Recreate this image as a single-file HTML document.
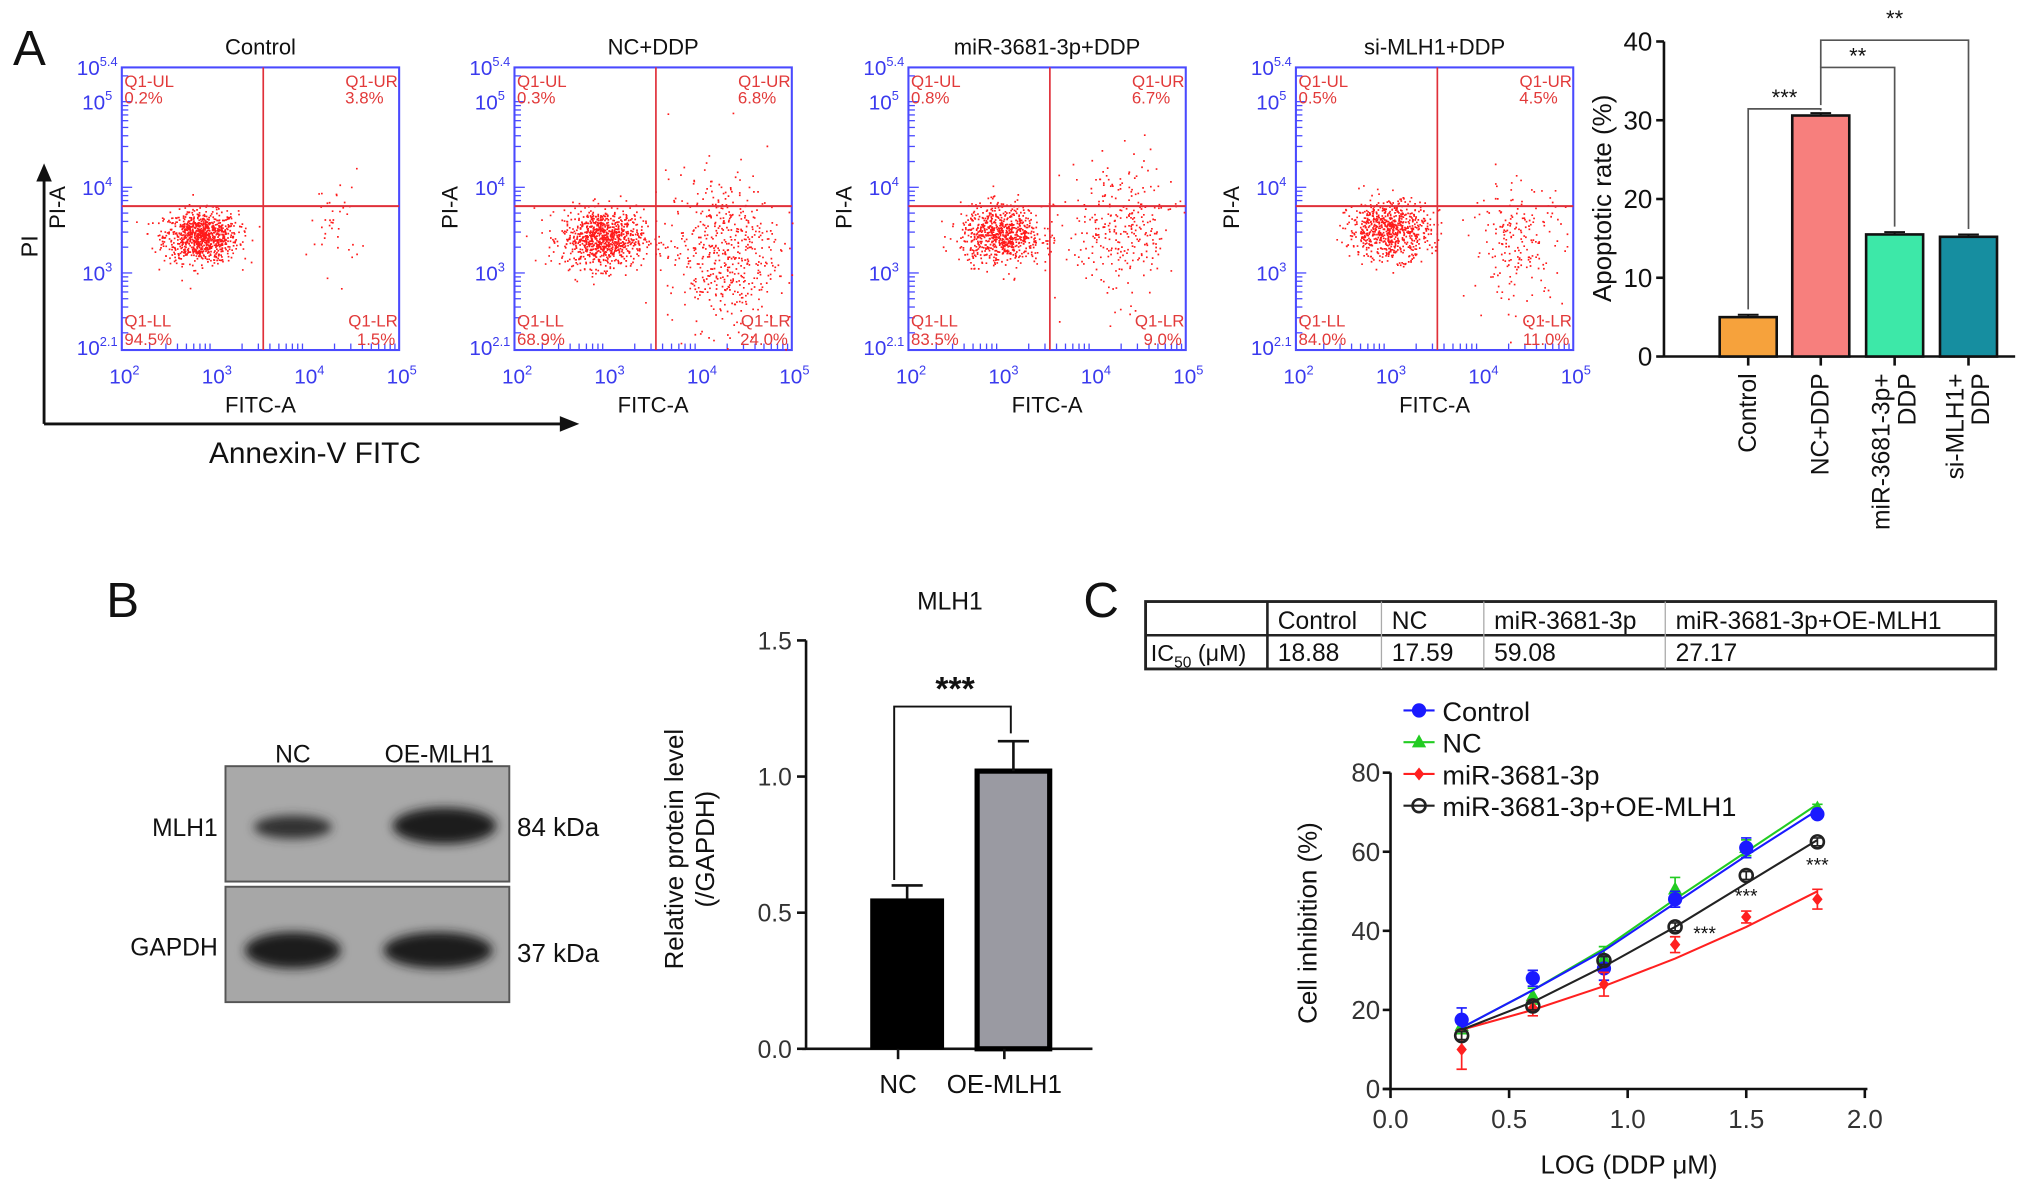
<!DOCTYPE html>
<html><head><meta charset="utf-8">
<style>
html,body{margin:0;padding:0;background:#fff;}
svg{display:block;font-family:"Liberation Sans",Arial,sans-serif;}
</style></head>
<body>
<svg id="fig" width="2032" height="1194" viewBox="0 0 1568 921" preserveAspectRatio="none" xmlns="http://www.w3.org/2000/svg">
<defs>
<filter id="blur" x="-50%" y="-50%" width="200%" height="200%"><feGaussianBlur stdDeviation="4"/></filter>
</defs>
</svg>
<script>
// ---------- data ----------
const flowTitles = ["Control","NC+DDP","miR-3681-3p+DDP","si-MLH1+DDP"];
const flowUL = ["0.2%","0.3%","0.8%","0.5%"];
const flowUR = ["3.8%","6.8%","6.7%","4.5%"];
const flowLL = ["94.5%","68.9%","83.5%","84.0%"];
const flowLR = ["1.5%","24.0%","9.0%","11.0%"];
// cluster params per plot: [logX, logY, sdX, sdY, count]
const flowClusters = [
  [[2.85,3.42,0.2,0.15,900],[4.3,3.6,0.14,0.3,40]],
  [[2.95,3.4,0.22,0.17,900],[4.25,3.25,0.3,0.45,520]],
  [[3.0,3.45,0.22,0.17,750],[4.3,3.5,0.3,0.4,300]],
  [[3.0,3.5,0.22,0.17,750],[4.4,3.35,0.25,0.35,200]]
];
const apopCats = [["Control"],["NC+DDP"],["miR-3681-3p+","DDP"],["si-MLH1+","DDP"]];
const apopVals = [5.0,30.6,15.5,15.2];
const apopErr = [0.3,0.3,0.3,0.3];
const apopColors = ["#f6a23c","#f77f7d","#3de8a8","#168ea0"];
const apopTicks = [0,10,20,30,40];
const mlhCats = ["NC","OE-MLH1"];
const mlhVals = [0.55,1.02];
const mlhErr = [0.05,0.11];
const mlhTicks = [0,0.5,1.0,1.5];
const doseX = [0.3,0.6,0.9,1.2,1.5,1.8];
const ctrlY = [17.5,28,30.5,48,61,69.5];
const ctrlE = [3,2,3,2,2.5,1];
const ncY = [16,23.5,33,50.5,61,71];
const ncE = [2,2,3,3,2,1];
const mirY = [10,20.5,26.5,36.5,43.5,48];
const mirE = [5,2,3,2,1.5,2.5];
const oeY = [13.5,21,32.5,41,54,62.5];
const oeE = [1,1,1,1,1,1];
const ctrlFit = [15.5,25,35,47,59,70.5];
const ncFit = [15.5,25,35.5,48,60,72];
const mirFit = [15,20,26,33,41,50];
const oeFit = [15,22,31,41,52,63];
const lineXTicks = [0,0.5,1.0,1.5,2.0];
const lineYTicks = [0,20,40,60,80];
const icCols = ["Control","NC","miR-3681-3p","miR-3681-3p+OE-MLH1"];
const icVals = ["18.88","17.59","59.08","27.17"];

// ---------- helpers ----------
const NS="http://www.w3.org/2000/svg";
const svg=document.getElementById('fig');
function el(tag,attrs,name,parent){
  const e=document.createElementNS(NS,tag);
  for(const k in attrs) e.setAttribute(k,attrs[k]);
  
  
  (parent||svg).appendChild(e);
  return e;
}
function txt(x,y,s,size,extra,name,parent){
  const a=Object.assign({x:x,y:y,'font-size':size,fill:'#111'},extra||{});
  const t=el('text',a,name,parent);
  t.textContent=s;
  return t;
}
function pow(x,y,base,exp,size,color,name,parent){
  const t=el('text',{x:x,y:y,'font-size':size,fill:color,'text-anchor':'middle'},name,parent);
  const a=document.createElementNS(NS,'tspan');a.textContent=base;t.appendChild(a);
  const b=document.createElementNS(NS,'tspan');b.textContent=exp;b.setAttribute('font-size',size*0.62);b.setAttribute('dy',-size*0.45);t.appendChild(b);
  return t;
}
let seed=12345;
function rnd(){seed=(seed*1103515245+12345)%2147483648;return seed/2147483648;}
function gauss(){let u=rnd()||1e-6,v=rnd();return Math.sqrt(-2*Math.log(u))*Math.cos(2*Math.PI*v);}

// ---------- Panel A: flow plots ----------
txt(10,50,"A",38,{},'panel-a-label');
const flowOx=[94,397,701,1000];
const fw=214, ftop=52, fbot=270;
for(let i=0;i<4;i++){
  const g=el('g',{},'flow-plot-'+(i+1));
  const ox=flowOx[i];
  const fx=v=>ox+(v-2)/3*fw;
  const fy=v=>fbot-(v-2.1)/3.3*(fbot-ftop);
  txt(ox+fw/2,42,flowTitles[i],17,{'text-anchor':'middle'},'flow-title',g);
  el('rect',{x:ox,y:ftop,width:fw,height:fbot-ftop,fill:'none',stroke:'#4a4aff','stroke-width':1.6},'flow-frame',g);
  for(let d=2;d<5;d++){for(let m=2;m<=9;m++){const lx=fx(d+Math.log10(m));el('line',{x1:lx,y1:fbot,x2:lx,y2:fbot-5,stroke:'#4a4aff','stroke-width':1},'x-minor-tick',g);}}
  for(let d=2;d<6;d++){for(let m=1;m<=9;m++){const v=d+Math.log10(m);if(v<2.1||v>5.4)continue;const ly=fy(v);el('line',{x1:ox,y1:ly,x2:ox+(m==1?8:5),y2:ly,stroke:'#4a4aff','stroke-width':1},'y-minor-tick',g);}}
  const pts=[];
  flowClusters[i].forEach(c=>{for(let k=0;k<c[4];k++){const lx=c[0]+gauss()*c[2],ly=c[1]+gauss()*c[3];if(lx<2||lx>5||ly<2.1||ly>5.4)continue;pts.push('M'+fx(lx).toFixed(1)+' '+fy(ly).toFixed(1)+'h1.3');}});
  el('path',{d:pts.join(''),stroke:'#ff1a1a','stroke-width':1.3,fill:'none'},'flow-events',g);
  const qx=fx(3.53), qy=fy(3.78);
  el('line',{x1:qx,y1:ftop,x2:qx,y2:fbot,stroke:'#e0303a','stroke-width':1.3},'quadrant-vline',g);
  el('line',{x1:ox,y1:qy,x2:ox+fw,y2:qy,stroke:'#e0303a','stroke-width':1.5},'quadrant-hline',g);
  const qs={fill:'#e23a3a'};
  txt(ox+2,67,"Q1-UL",13,qs,'quadrant-ul-label',g);txt(ox+2,80,flowUL[i],13,qs,'quadrant-ul-value',g);
  txt(ox+fw-1,67,"Q1-UR",13,Object.assign({'text-anchor':'end'},qs),'quadrant-ur-label',g);txt(ox+fw-12,80,flowUR[i],13,Object.assign({'text-anchor':'end'},qs),'quadrant-ur-value',g);
  txt(ox+2,252,"Q1-LL",13,qs,'quadrant-ll-label',g);txt(ox+2,266,flowLL[i],13,qs,'quadrant-ll-value',g);
  txt(ox+fw-1,252,"Q1-LR",13,Object.assign({'text-anchor':'end'},qs),'quadrant-lr-label',g);txt(ox+fw-3,266,flowLR[i],13,Object.assign({'text-anchor':'end'},qs),'quadrant-lr-value',g);
  const bl='#3a3aee';
  [["5.4",5.4,ftop+6],["5",5,fy(5)+6],["4",4,fy(4)+6],["3",3,fy(3)+6],["2.1",2.1,fbot+4]].forEach(t=>pow(ox-19,t[2],"10",t[0],16,bl,'y-tick-label',g));
  [2,3,4,5].forEach(d=>pow(fx(d)+2,fbot+26,"10",String(d),16,bl,'x-tick-label',g));
  txt(ox+fw/2,318,"FITC-A",17,{'text-anchor':'middle'},'x-axis-title',g);
  txt(0,0,"PI-A",17,{'text-anchor':'middle',transform:'translate('+(ox-44)+',160) rotate(-90)'},'y-axis-title',g);
}
el('path',{d:'M34 327V135M34 327H440',stroke:'#111','stroke-width':2.2,fill:'none'},'annexin-axes-arrows');
el('path',{d:'M28 140L34 126L40 140Z',fill:'#111'},'pi-arrowhead');
el('path',{d:'M432 321L447 327L432 333Z',fill:'#111'},'annexin-arrowhead');
txt(0,0,"PI",18,{'text-anchor':'middle',transform:'translate(29,190) rotate(-90)'},'pi-axis-title');
txt(243,357,"Annexin-V FITC",23,{'text-anchor':'middle'},'annexin-axis-title');

// ---------- Panel A: apoptotic bar chart ----------
(function(){
  const g=el('g',{},'apoptosis-bar-chart');
  const ax=1284, y0=275, y1=32;
  const ys=v=>y0-v/40*(y0-y1);
  const xc=[1349,1405,1462,1519];
  el('line',{x1:ax,y1:y1,x2:ax,y2:y0,stroke:'#111','stroke-width':2},'y-axis',g);
  el('line',{x1:ax,y1:y0,x2:1555,y2:y0,stroke:'#111','stroke-width':2},'x-axis',g);
  apopTicks.forEach(t=>{el('line',{x1:ax-6,y1:ys(t),x2:ax,y2:ys(t),stroke:'#111','stroke-width':2},'y-tick',g);txt(ax-9,ys(t)+7,String(t),20,{'text-anchor':'end'},'y-tick-label',g);});
  txt(0,0,"Apoptotic rate (%)",20,{'text-anchor':'middle',transform:'translate(1243,153) rotate(-90)'},'y-axis-title',g);
  apopVals.forEach((v,i)=>{
    el('rect',{x:xc[i]-22,y:ys(v),width:44,height:y0-ys(v),fill:apopColors[i],stroke:'#111','stroke-width':2},'bar-'+i,g);
    el('path',{d:'M'+(xc[i]-8)+' '+ys(v+apopErr[i])+'h16M'+xc[i]+' '+ys(v+apopErr[i])+'V'+ys(v),stroke:'#111','stroke-width':1.5},'error-bar',g);
    el('line',{x1:xc[i],y1:y0,x2:xc[i],y2:y0+7,stroke:'#111','stroke-width':2},'x-tick',g);
    const lines=apopCats[i];
    lines.forEach((s,j)=>{txt(0,0,s,19,{'text-anchor':'end',transform:'translate('+(xc[i]+6-(lines.length-1-j)*20+ (lines.length>1?10:0))+',288) rotate(-90)'},'x-tick-label',g);});
  });
  const br=(a,b,y,ya,yb,s,name)=>{el('path',{d:'M'+xc[a]+' '+ya+'V'+y+'H'+xc[b]+'V'+yb,stroke:'#555','stroke-width':1.3,fill:'none'},name,g);txt((xc[a]+xc[b])/2,y-3,s,17,{'text-anchor':'middle'},name+'-stars',g);};
  br(0,1,84,ys(apopVals[0])-6,ys(apopVals[1])-4,"***",'sig-ctrl-nc');
  br(1,2,52,ys(apopVals[1])-8,ys(apopVals[2])-6,"**",'sig-nc-mir');
  br(1,3,31,52,ys(apopVals[3])-6,"",'sig-nc-si');
  txt((xc[1]+xc[3])/2,20,"**",17,{'text-anchor':'middle'},'sig-nc-si-stars',g);
})();

// ---------- Panel B: western blot ----------
txt(82,476,"B",38,{},'panel-b-label');
(function(){
  const g=el('g',{},'western-blot');
  txt(226,588,"NC",19,{'text-anchor':'middle'},'lane-label-nc',g);
  txt(339,588,"OE-MLH1",19,{'text-anchor':'middle'},'lane-label-oe',g);
  el('rect',{x:174,y:591,width:219,height:89,fill:'#a9a9a9',stroke:'#555','stroke-width':1.5},'blot-mlh1',g);
  el('rect',{x:174,y:684,width:219,height:89,fill:'#a7a7a7',stroke:'#555','stroke-width':1.5},'blot-gapdh',g);
  el('ellipse',{cx:226,cy:638,rx:30,ry:9,fill:'#333',filter:'url(#blur)'},'band-mlh1-nc',g);
  el('ellipse',{cx:343,cy:637,rx:40,ry:14,fill:'#1c1c1c',filter:'url(#blur)'},'band-mlh1-oe',g);
  el('ellipse',{cx:226,cy:733,rx:37,ry:14,fill:'#1c1c1c',filter:'url(#blur)'},'band-gapdh-nc',g);
  el('ellipse',{cx:338,cy:733,rx:42,ry:14,fill:'#1c1c1c',filter:'url(#blur)'},'band-gapdh-oe',g);
  txt(168,645,"MLH1",19,{'text-anchor':'end'},'row-label-mlh1',g);
  txt(168,737,"GAPDH",19,{'text-anchor':'end'},'row-label-gapdh',g);
  txt(399,645,"84 kDa",20,{},'mw-84',g);
  txt(399,742,"37 kDa",20,{},'mw-37',g);
})();

// ---------- Panel B: MLH1 bar ----------
(function(){
  const g=el('g',{},'mlh1-bar-chart');
  const ax=622, y0=809, y1=494;
  const ys=v=>y0-v/1.5*(y0-y1);
  const xc=[700,782];
  txt(733,470,"MLH1",19,{'text-anchor':'middle'},'chart-title',g);
  el('line',{x1:ax,y1:y1,x2:ax,y2:y0,stroke:'#111','stroke-width':2},'y-axis',g);
  el('line',{x1:ax-3,y1:y0,x2:843,y2:y0,stroke:'#111','stroke-width':2},'x-axis',g);
  mlhTicks.forEach(t=>{el('line',{x1:ax-7,y1:ys(t),x2:ax,y2:ys(t),stroke:'#111','stroke-width':2},'y-tick',g);txt(ax-11,ys(t)+7,t.toFixed(1),19,{'text-anchor':'end',fill:'#333'},'y-tick-label',g);});
  txt(0,0,"Relative protein level",20,{'text-anchor':'middle',transform:'translate(527,655) rotate(-90)'},'y-axis-title',g);
  txt(0,0,"(/GAPDH)",20,{'text-anchor':'middle',transform:'translate(551,655) rotate(-90)'},'y-axis-title-unit',g);
  const fills=['#000','#9a9aa2'];
  mlhVals.forEach((v,i)=>{
    el('rect',{x:xc[i]-28,y:ys(v),width:56,height:y0-ys(v),fill:fills[i],stroke:'#000','stroke-width':i?4:1},'bar-'+mlhCats[i],g);
    el('path',{d:'M'+(xc[i]-12)+' '+ys(v+mlhErr[i])+'h24M'+xc[i]+' '+ys(v+mlhErr[i])+'V'+ys(v),stroke:'#111','stroke-width':2},'error-bar',g);
    el('line',{x1:xc[i]-7,y1:y0,x2:xc[i]-7,y2:y0+8,stroke:'#111','stroke-width':2},'x-tick',g);
    txt(xc[i]-7,843,mlhCats[i],20,{'text-anchor':'middle'},'x-tick-label',g);
  });
  el('path',{d:'M'+(xc[0]-10)+' '+ys(mlhVals[0]+mlhErr[0]+0.02)+'V545H'+(xc[1]-2)+'V'+(ys(mlhVals[1]+mlhErr[1])-6),stroke:'#111','stroke-width':1.5,fill:'none'},'sig-bracket',g);
  txt(737,540,"***",26,{'text-anchor':'middle','font-weight':'bold'},'sig-stars',g);
})();

// ---------- Panel C: table ----------
txt(836,476,"C",38,{},'panel-c-label');
(function(){
  const g=el('g',{},'ic50-table');
  el('rect',{x:884,y:464,width:656,height:52,fill:'none',stroke:'#222','stroke-width':2.2},'table-frame',g);
  el('line',{x1:884,y1:490,x2:1540,y2:490,stroke:'#222','stroke-width':2},'table-row-divider',g);
  el('line',{x1:978,y1:464,x2:978,y2:516,stroke:'#222','stroke-width':2},'table-col-divider',g);
  const cx=[978,1066,1145,1285];
  [1066,1145,1285].forEach(x=>el('line',{x1:x,y1:464,x2:x,y2:516,stroke:'#aaa','stroke-width':1},'table-col-divider',g));
  icCols.forEach((s,i)=>txt(cx[i]+8,485,s,19,{},'table-header-cell',g));
  icVals.forEach((s,i)=>txt(cx[i]+8,510,s,19,{},'table-value-cell',g));
  const t=txt(888,510,"IC",18,{},'table-row-label',g);
  const s1=document.createElementNS(NS,'tspan');s1.textContent="50";s1.setAttribute('font-size',12);s1.setAttribute('dy',5);t.appendChild(s1);
  const s2=document.createElementNS(NS,'tspan');s2.textContent=" (μM)";s2.setAttribute('dy',-5);t.appendChild(s2);
})();

// ---------- Panel C: line chart ----------
(function(){
  const g=el('g',{},'inhibition-line-chart');
  const ax=1073, y0=840, y1=596;
  const xs=v=>ax+v/2*(1439-ax);
  const ys=v=>y0-v/80*(y0-y1);
  el('line',{x1:ax,y1:y1,x2:ax,y2:y0,stroke:'#111','stroke-width':2},'y-axis',g);
  el('line',{x1:ax-6,y1:y0,x2:1441,y2:y0,stroke:'#111','stroke-width':2},'x-axis',g);
  lineYTicks.forEach(t=>{el('line',{x1:ax-6,y1:ys(t),x2:ax,y2:ys(t),stroke:'#111','stroke-width':2},'y-tick',g);txt(ax-8,ys(t)+7,String(t),20,{'text-anchor':'end',fill:'#333'},'y-tick-label',g);});
  lineXTicks.forEach(t=>{el('line',{x1:xs(t),y1:y0,x2:xs(t),y2:y0+7,stroke:'#111','stroke-width':2},'x-tick',g);txt(xs(t),870,t.toFixed(1),20,{'text-anchor':'middle',fill:'#333'},'x-tick-label',g);});
  txt(1257,905,"LOG (DDP μM)",20,{'text-anchor':'middle'},'x-axis-title',g);
  txt(0,0,"Cell inhibition (%)",20,{'text-anchor':'middle',transform:'translate(1016,712) rotate(-90)'},'y-axis-title',g);
  const series=[
    {n:'nc',y:ncY,e:ncE,f:ncFit,c:'#22cc22',m:'tri'},
    {n:'control',y:ctrlY,e:ctrlE,f:ctrlFit,c:'#1a1aff',m:'dot'},
    {n:'mir-3681-3p',y:mirY,e:mirE,f:mirFit,c:'#ff2020',m:'dia'},
    {n:'mir-oe-mlh1',y:oeY,e:oeE,f:oeFit,c:'#222',m:'open'}
  ];
  function marker(m,x,y,c,name,parent){
    if(m==='dot') return el('circle',{cx:x,cy:y,r:5.5,fill:c},name,parent);
    if(m==='tri') return el('path',{d:'M'+x+' '+(y-6)+'L'+(x+5.5)+' '+(y+4)+'L'+(x-5.5)+' '+(y+4)+'Z',fill:c},name,parent);
    if(m==='dia') return el('path',{d:'M'+x+' '+(y-5)+'L'+(x+4)+' '+y+'L'+x+' '+(y+5)+'L'+(x-4)+' '+y+'Z',fill:c},name,parent);
    return el('circle',{cx:x,cy:y,r:5,fill:'none',stroke:c,'stroke-width':2},name,parent);
  }
  series.forEach(s=>{
    const sg=el('g',{},'series-'+s.n,g);
    let d='';doseX.forEach((x,i)=>{d+=(i?'L':'M')+xs(x).toFixed(1)+' '+ys(s.f[i]).toFixed(1);});
    el('path',{d:d,stroke:s.c,'stroke-width':1.6,fill:'none'},'fit-line',sg);
    doseX.forEach((x,i)=>{
      const px=xs(x);
      el('path',{d:'M'+(px-4)+' '+ys(s.y[i]+s.e[i])+'h8M'+px+' '+ys(s.y[i]+s.e[i])+'V'+ys(s.y[i]-s.e[i])+'M'+(px-4)+' '+ys(s.y[i]-s.e[i])+'h8',stroke:s.c,'stroke-width':1.3,fill:'none'},'error-bar',sg);
      marker(s.m,px,ys(s.y[i]),s.c,'point',sg);
    });
  });
  [[1.2,oeY[3],14,4],[1.5,oeY[4],0,15],[1.8,oeY[5],0,17]].forEach(a=>txt(xs(a[0])+a[2],ys(a[1])+a[3]+6,"***",15,{'text-anchor':a[2]?'start':'middle'},'sig-stars',g));
  const lg=el('g',{},'legend',g);
  const ln=["Control","NC","miR-3681-3p","miR-3681-3p+OE-MLH1"];
  const lc=['#1a1aff','#22cc22','#ff2020','#222'];
  const lm=['dot','tri','dia','open'];
  ln.forEach((s,i)=>{
    const ly=548+i*24.5;
    el('line',{x1:1083,y1:ly,x2:1107,y2:ly,stroke:lc[i],'stroke-width':1.6},'legend-line',lg);
    marker(lm[i],1095,ly,lc[i],'legend-marker',lg);
    txt(1113,ly+8,s,21,{},'legend-entry',lg);
  });
})();
</script>
</body></html>
